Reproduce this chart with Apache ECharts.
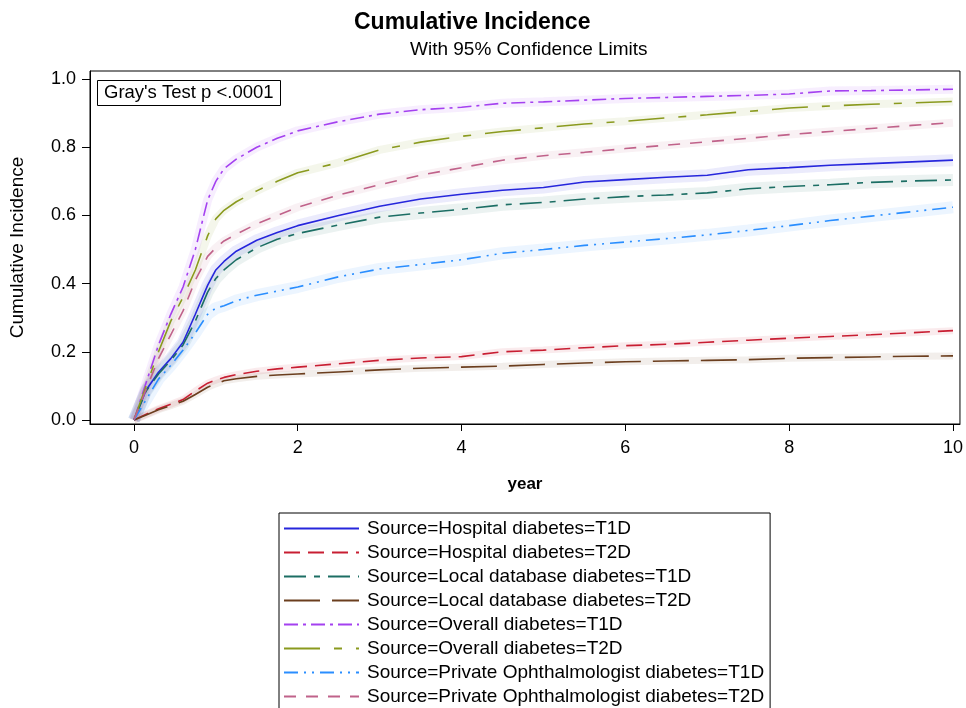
<!DOCTYPE html>
<html>
<head>
<meta charset="utf-8">
<script src="https://cdn.jsdelivr.net/npm/echarts@6/dist/echarts.min.js"></script>
<style>
html,body{margin:0;padding:0;background:#fff;}
#chart{width:966px;height:708px;}
</style>
</head>
<body>
<div id="chart"></div>
<script>
const years = [0, 0.15, 0.3, 0.45, 0.6, 0.75, 0.9, 1.0, 1.1, 1.25, 1.5, 1.75, 2, 2.5, 3, 3.5, 4, 4.5, 5, 5.5, 6, 6.5, 7, 7.5, 8, 8.5, 9, 9.5, 10];

const hospitalT1D = [0, 0.088, 0.14, 0.18, 0.228, 0.31, 0.395, 0.44, 0.465, 0.495, 0.527, 0.55, 0.57, 0.6, 0.627, 0.648, 0.662, 0.674, 0.682, 0.698, 0.705, 0.712, 0.718, 0.734, 0.740, 0.747, 0.752, 0.757, 0.762];
const hospitalT2D = [0, 0.017, 0.033, 0.046, 0.06, 0.085, 0.108, 0.117, 0.125, 0.133, 0.143, 0.15, 0.155, 0.165, 0.175, 0.182, 0.186, 0.20, 0.205, 0.212, 0.218, 0.222, 0.228, 0.234, 0.24, 0.245, 0.25, 0.256, 0.262];
const localT1D = [0, 0.085, 0.135, 0.175, 0.22, 0.29, 0.375, 0.415, 0.44, 0.47, 0.505, 0.53, 0.547, 0.572, 0.595, 0.607, 0.618, 0.631, 0.638, 0.648, 0.655, 0.660, 0.666, 0.678, 0.685, 0.690, 0.697, 0.701, 0.704];
const localT2D = [0, 0.015, 0.03, 0.042, 0.055, 0.075, 0.096, 0.106, 0.115, 0.121, 0.128, 0.132, 0.135, 0.141, 0.147, 0.152, 0.155, 0.158, 0.163, 0.167, 0.171, 0.173, 0.175, 0.177, 0.181, 0.183, 0.185, 0.187, 0.188];
const overallT1D = [0, 0.11, 0.22, 0.31, 0.39, 0.50, 0.645, 0.70, 0.737, 0.765, 0.80, 0.826, 0.848, 0.875, 0.897, 0.91, 0.917, 0.929, 0.933, 0.938, 0.943, 0.946, 0.949, 0.952, 0.956, 0.965, 0.966, 0.968, 0.970];
const overallT2D = [0, 0.10, 0.20, 0.29, 0.36, 0.44, 0.54, 0.59, 0.615, 0.64, 0.672, 0.70, 0.725, 0.755, 0.792, 0.815, 0.832, 0.846, 0.857, 0.868, 0.876, 0.886, 0.895, 0.905, 0.915, 0.921, 0.926, 0.930, 0.934];
const privateT1D = [0, 0.06, 0.12, 0.16, 0.205, 0.255, 0.31, 0.328, 0.335, 0.35, 0.366, 0.378, 0.39, 0.42, 0.443, 0.456, 0.47, 0.489, 0.50, 0.512, 0.522, 0.532, 0.543, 0.556, 0.57, 0.585, 0.598, 0.611, 0.624];
const privateT2D = [0, 0.09, 0.18, 0.25, 0.32, 0.41, 0.48, 0.505, 0.525, 0.545, 0.575, 0.60, 0.624, 0.66, 0.69, 0.718, 0.74, 0.762, 0.775, 0.785, 0.796, 0.806, 0.816, 0.826, 0.837, 0.846, 0.855, 0.864, 0.872];

const seriesNames = [
  'Source=Hospital diabetes=T1D',
  'Source=Hospital diabetes=T2D',
  'Source=Local database diabetes=T1D',
  'Source=Local database diabetes=T2D',
  'Source=Overall diabetes=T1D',
  'Source=Overall diabetes=T2D',
  'Source=Private Ophthalmologist diabetes=T1D',
  'Source=Private Ophthalmologist diabetes=T2D'
];
const seriesValues = [hospitalT1D, hospitalT2D, localT1D, localT2D, overallT1D, overallT2D, privateT1D, privateT2D];

const xTicks = [0, 2, 4, 6, 8, 10];
const yTicks = [0, 0.2, 0.4, 0.6, 0.8, 1.0];

const titleText = 'Cumulative Incidence';
const subtitleText = 'With 95% Confidence Limits';
const testText = "Gray's Test p <.0001";

// styles
const colors = ['#2626DC', '#C81E32', '#1C6E64', '#6B3E1E', '#A441F0', '#8A9A1E', '#2A8EFF', '#C0628A'];
const dashes = ['solid', [16, 8], [22, 8, 6, 8], [36, 12], [14, 5, 3, 5], [36, 14, 8, 14], [14, 6, 2, 6, 2, 6], [12, 10]];
const bandWidths = [12, 7, 12, 7, 9, 8, 12, 8];
const FONT = '"Liberation Sans", Arial, sans-serif';

const chart = echarts.init(document.getElementById('chart'), null, {renderer: 'canvas'});

const series = [];
seriesValues.forEach((vals, i) => {
  const data = years.map((t, k) => [t, vals[k]]);
  series.push({
    name: 'band' + i,
    type: 'line',
    data: data,
    symbol: 'none',
    silent: true,
    z: 1,
    lineStyle: {color: colors[i], width: bandWidths[i], opacity: 0.09},
    emphasis: {disabled: true}
  });
});
seriesValues.forEach((vals, i) => {
  const data = years.map((t, k) => [t, vals[k]]);
  series.push({
    name: seriesNames[i],
    type: 'line',
    data: data,
    symbol: 'none',
    z: 3,
    itemStyle: {color: colors[i]},
    lineStyle: {color: colors[i], width: 1.6, type: dashes[i]},
    emphasis: {disabled: true}
  });
});

const option = {
  animation: false,
  backgroundColor: '#fff',
  title: [
    {text: titleText, left: 349, top: 6, textStyle: {fontFamily: FONT, fontSize: 23, fontWeight: 'bold', color: '#000'}},
    {text: subtitleText, left: 405, top: 35, textStyle: {fontFamily: FONT, fontSize: 19, fontWeight: 'normal', color: '#000'}},
    {text: testText, left: 97, top: 81, padding: [3, 7, 3, 7], borderColor: '#000', borderWidth: 1,
     textStyle: {fontFamily: FONT, fontSize: 18.5, fontWeight: 'normal', color: '#000', lineHeight: 18}}
  ],
  grid: {left: 89, top: 71, width: 872, height: 353, show: true, borderColor: '#000', borderWidth: 1, backgroundColor: 'transparent'},
  xAxis: {
    type: 'value', min: -0.536, max: 10.085,
    name: 'year', nameLocation: 'middle', nameGap: 52,
    nameTextStyle: {fontFamily: FONT, fontSize: 17, fontWeight: 'bold', color: '#000'},
    axisLine: {show: true, onZero: false, lineStyle: {color: '#000', width: 1}},
    axisTick: {show: true, length: 7, lineStyle: {color: '#000'}, customValues: xTicks},
    axisLabel: {customValues: xTicks, margin: 15, fontFamily: FONT, fontSize: 18, color: '#000'},
    splitLine: {show: false}
  },
  yAxis: {
    type: 'value', min: -0.0117, max: 1.0235,
    name: 'Cumulative Incidence', nameLocation: 'middle', nameGap: 63, nameRotate: 90,
    nameTextStyle: {fontFamily: FONT, fontSize: 19, color: '#000'},
    axisLine: {show: true, onZero: false, lineStyle: {color: '#000', width: 1}},
    axisTick: {show: true, length: 8, lineStyle: {color: '#000'}, customValues: yTicks},
    axisLabel: {customValues: yTicks, margin: 14, fontFamily: FONT, fontSize: 18, color: '#000',
      formatter: v => v.toFixed(1)},
    splitLine: {show: false}
  },
  legend: {
    data: seriesNames,
    orient: 'vertical',
    left: 279, top: 513,
    height: 300,
    padding: [6, 6, 4, 4],
    borderColor: '#000', borderWidth: 1,
    itemWidth: 75, itemHeight: 14, itemGap: 5,
    itemStyle: {opacity: 0},
    selectedMode: false,
    textStyle: {fontFamily: FONT, fontSize: 19, color: '#000', lineHeight: 19, padding: [0, 0, 0, 3]}
  },
  series: series
};
chart.setOption(option);
</script>
</body>
</html>
